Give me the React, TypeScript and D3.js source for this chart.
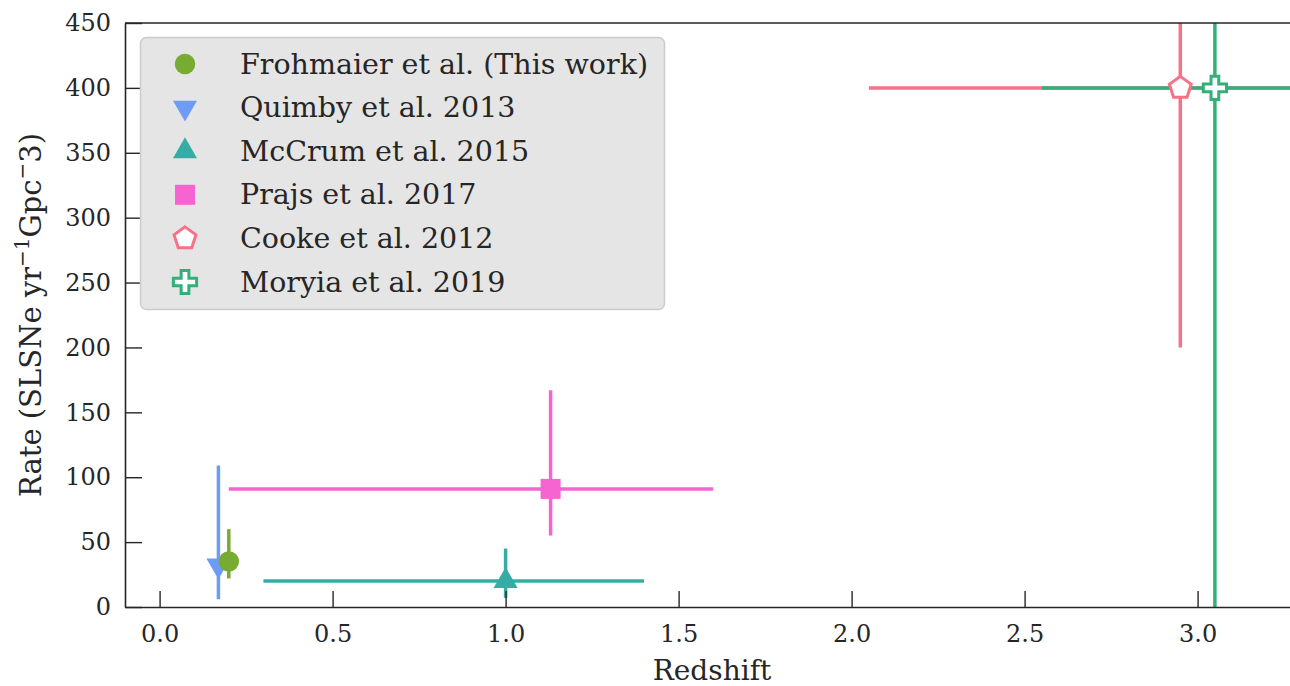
import React, { useEffect, useRef } from "react";
import * as d3 from "d3";

// ---- data ----
const seriesNames = [
  "Frohmaier et al. (This work)",
  "Quimby et al. 2013",
  "McCrum et al. 2015",
  "Prajs et al. 2017",
  "Cooke et al. 2012",
  "Moryia et al. 2019",
];
const redshift = [0.2, 0.17, 1.0, 1.13, 2.95, 3.05];
const rate = [35, 32, 20, 91, 400, 400];
const rateErrLow = [13, 26, 13, 36, 200, 400];
const rateErrHigh = [25, 77, 25, 76, 400, 400];
const zLow = [null, null, 0.3, 0.2, 2.05, 2.55];
const zHigh = [null, null, 1.4, 1.6, 3.85, 3.55];
const colors = ["#78ab31", "#6e9bf3", "#36ada4", "#f564d0", "#f77189", "#33b07a"];
const markers = ["circle", "triDown", "triUp", "square", "pentagon", "cross"];

const xTicks = [0, 0.5, 1.0, 1.5, 2.0, 2.5, 3.0];
const yTicks = [0, 50, 100, 150, 200, 250, 300, 350, 400, 450];

const FONT = "'DejaVu Serif', serif";
const INK = "#262626";

function markerPath(kind: string): string {
  switch (kind) {
    case "circle":
      return d3.symbol(d3.symbolCircle, 330)()!;
    case "triUp":
    case "triDown":
      return d3.symbol(d3.symbolTriangle, 250)()!;
    case "square":
      return d3.symbol(d3.symbolSquare, 400)()!;
    case "cross":
      return d3.symbol(d3.symbolCross, 300)()!;
    case "pentagon": {
      const r = 11.5;
      const pts = d3.range(5).map((i) => {
        const a = -Math.PI / 2 + (i * 2 * Math.PI) / 5;
        return [r * Math.cos(a), r * Math.sin(a)];
      });
      return "M" + pts.map((p) => p.join(",")).join("L") + "Z";
    }
  }
  return "";
}

function isHollow(kind: string) {
  return kind === "pentagon" || kind === "cross";
}

export default function App() {
  const svgRef = useRef<SVGSVGElement | null>(null);
  const width = 1290;
  const height = 686;

  useEffect(() => {
    if (!svgRef.current) return;
    const svg = d3.select(svgRef.current);
    svg.selectAll("*").remove();

    const left = 125;
    const right = 1292;
    const top = 23;
    const bottom = 607;

    const x = d3.scaleLinear().domain([-0.1, 3.27]).range([left, left + (3.27 + 0.1) * 346]);
    const y = d3.scaleLinear().domain([0, 450]).range([bottom, top]);

    svg
      .append("defs")
      .append("clipPath")
      .attr("id", "plot-clip")
      .append("rect")
      .attr("x", left)
      .attr("y", top)
      .attr("width", right - left)
      .attr("height", bottom - top);

    const plot = svg.append("g").attr("clip-path", "url(#plot-clip)");
    const idx = d3.range(seriesNames.length);

    // error bars first (matplotlib draws markers above all bars)
    idx.forEach((i) => {
      const g = plot.append("g");
      g.append("line")
        .attr("x1", x(redshift[i]))
        .attr("x2", x(redshift[i]))
        .attr("y1", y(rate[i] - rateErrLow[i]))
        .attr("y2", y(rate[i] + rateErrHigh[i]))
        .attr("stroke", colors[i])
        .attr("stroke-width", 3.5);
      if (zLow[i] !== null) {
        g.append("line")
          .attr("x1", x(zLow[i] as number))
          .attr("x2", x(zHigh[i] as number))
          .attr("y1", y(rate[i]))
          .attr("y2", y(rate[i]))
          .attr("stroke", colors[i])
          .attr("stroke-width", 3.5);
      }
    });

    // markers; Frohmaier on top
    const order = [1, 2, 3, 4, 5, 0];
    order.forEach((i) => {
      const kind = markers[i];
      plot
        .append("path")
        .attr("d", markerPath(kind))
        .attr(
          "transform",
          `translate(${x(redshift[i])},${y(rate[i])})${kind === "triDown" ? " rotate(180)" : ""}`
        )
        .attr("fill", isHollow(kind) ? "#ffffff" : colors[i])
        .attr("stroke", isHollow(kind) ? colors[i] : "none")
        .attr("stroke-width", 3);
    });

    // axes
    const xAxis = d3
      .axisBottom(x)
      .tickValues(xTicks)
      .tickFormat(d3.format(".1f"))
      .tickSizeInner(-16)
      .tickSizeOuter(0)
      .tickPadding(26);
    const gx = svg.append("g").attr("transform", `translate(0,${bottom})`).call(xAxis);

    const yAxis = d3
      .axisLeft(y)
      .tickValues(yTicks)
      .tickFormat(d3.format("d"))
      .tickSizeInner(-17)
      .tickSizeOuter(0)
      .tickPadding(14);
    const gy = svg.append("g").attr("transform", `translate(${left},0)`).call(yAxis);

    [gx, gy].forEach((g) => {
      g.select(".domain").attr("stroke", INK).attr("stroke-width", 1.6);
      g.selectAll(".tick line").attr("stroke", INK).attr("stroke-width", 1.4);
      g.selectAll(".tick text")
        .attr("fill", INK)
        .style("font-family", FONT)
        .style("font-size", "24px");
    });
    gx.selectAll(".tick text").attr("dy", "0.35em").attr("y", 27);

    // top spine
    svg
      .append("line")
      .attr("x1", left)
      .attr("x2", right)
      .attr("y1", top)
      .attr("y2", top)
      .attr("stroke", INK)
      .attr("stroke-width", 1.6);

    // axis labels
    svg
      .append("text")
      .attr("x", 712)
      .attr("y", 672)
      .attr("text-anchor", "middle")
      .attr("dominant-baseline", "middle")
      .attr("fill", INK)
      .style("font-family", FONT)
      .style("font-size", "28px")
      .text("Redshift");

    const yl = svg
      .append("text")
      .attr("transform", `translate(41,${(top + bottom) / 2}) rotate(-90)`)
      .attr("text-anchor", "middle")
      .attr("fill", INK)
      .style("font-family", FONT)
      .style("font-size", "29px");
    yl.append("tspan").text("Rate (SLSNe yr");
    yl.append("tspan").attr("dy", -12).style("font-size", "20px").text("\u22121");
    yl.append("tspan").attr("dy", 12).text("Gpc");
    yl.append("tspan").attr("dy", -12).style("font-size", "20px").text("\u2212");
    yl.append("tspan").attr("dy", 12).text("3)");

    // legend
    const lg = svg.append("g");
    lg.append("rect")
      .attr("x", 140.5)
      .attr("y", 37.5)
      .attr("width", 524)
      .attr("height", 272)
      .attr("rx", 6)
      .attr("fill", "#e5e5e5")
      .attr("stroke", "#cccccc")
      .attr("stroke-width", 1.5);
    const rowY = d3.scaleLinear().domain([0, 5]).range([64, 282]);
    idx.forEach((i) => {
      const kind = markers[i];
      lg.append("path")
        .attr("d", markerPath(kind))
        .attr("transform", `translate(185,${rowY(i)})${kind === "triDown" ? " rotate(180)" : ""}`)
        .attr("fill", isHollow(kind) ? "#ffffff" : colors[i])
        .attr("stroke", isHollow(kind) ? colors[i] : "none")
        .attr("stroke-width", 3);
      lg.append("text")
        .attr("x", 240)
        .attr("y", rowY(i))
        .attr("dominant-baseline", "central")
        .attr("fill", INK)
        .style("font-family", FONT)
        .style("font-size", "28.5px")
        .text(seriesNames[i]);
    });
  }, []);

  return (
    <svg
      ref={svgRef}
      width={width}
      height={height}
      style={{ position: "absolute", left: 0, top: 0, background: "#ffffff" }}
    />
  );
}
